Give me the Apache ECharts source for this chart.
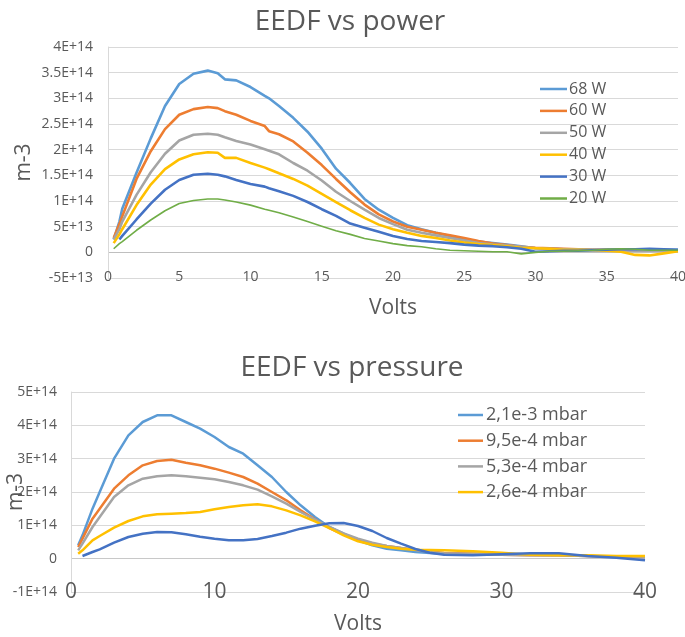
<!DOCTYPE html>
<html>
<head>
<meta charset="utf-8">
<script src="https://cdn.jsdelivr.net/npm/echarts@6/dist/echarts.min.js"></script>
<style>html,body{margin:0;padding:0;background:#fff}#c{width:685px;height:637px}</style>
</head>
<body>
<div id="c"></div>
<script>
// ---------- Top chart: EEDF vs power ----------
const topTitle = 'EEDF vs power';
const topNames = ['68 W', '60 W', '50 W', '40 W', '30 W', '20 W'];
const topVolts = [0.4, 0.8, 1, 2, 3, 4, 5, 6, 7, 7.7, 8.2, 9, 10, 11, 11.3, 12,
  13, 14, 15, 16, 17, 18, 19, 20, 21, 22, 23, 24, 25, 26, 27, 28, 29, 30, 31, 32, 33, 34, 35, 36, 37, 38, 39, 40];
const w68 = [2.5e13, 6e13, 8.5e13, 15.5e13, 22.2e13, 28.5e13, 32.8e13, 34.8e13, 35.4e13, 34.9e13, 33.7e13, 33.5e13, 32.2e13, 30.5e13, 30e13, 28.5e13,
  26.2e13, 23.5e13, 20.2e13, 16.3e13, 13.5e13, 10.4e13, 8.3e13, 6.7e13, 5.3e13, 4.5e13, 3.8e13, 3.2e13, 2.6e13, 2.1e13, 1.8e13, 1.5e13, 1.2e13, 0.8e13, 0.7e13, 0.6e13, 0.5e13, 0.5e13, 0.5e13, 0.5e13, 0.4e13, 0.4e13, 0.5e13, 0.5e13];
const w60 = [2.8e13, 5.5e13, 7e13, 14.3e13, 19.7e13, 24e13, 26.8e13, 27.9e13, 28.3e13, 28.1e13, 27.5e13, 26.8e13, 25.6e13, 24.6e13, 23.6e13, 23e13,
  21.6e13, 19.4e13, 17e13, 14.3e13, 11.7e13, 9.3e13, 7.4e13, 6.0e13, 5.0e13, 4.4e13, 3.8e13, 3.3e13, 2.8e13, 2.2e13, 1.7e13, 1.4e13, 1.1e13, 0.9e13, 0.8e13, 0.7e13, 0.6e13, 0.5e13, 0.5e13, 0.4e13, 0.4e13, 0.3e13, 0.3e13, 0.3e13];
const w50 = [2.5e13, 4.5e13, 6e13, 11.2e13, 15.6e13, 19.2e13, 21.8e13, 22.9e13, 23.1e13, 22.9e13, 22.4e13, 21.7e13, 21e13, 20.1e13, 19.8e13, 19.1e13,
  17.4e13, 15.9e13, 14.0e13, 11.8e13, 10.0e13, 8.3e13, 6.7e13, 5.5e13, 4.4e13, 3.8e13, 3.3e13, 2.8e13, 2.3e13, 1.8e13, 1.5e13, 1.3e13, 1.1e13, 0.8e13, 0.7e13, 0.6e13, 0.6e13, 0.5e13, 0.4e13, 0.4e13, 0.3e13, 0.3e13, 0.3e13, 0.3e13];
const w40 = [1.8e13, 3.5e13, 4.5e13, 9.2e13, 13.2e13, 16.2e13, 18.1e13, 19.1e13, 19.5e13, 19.4e13, 18.4e13, 18.4e13, 17.4e13, 16.5e13, 16.2e13, 15.4e13,
  14.3e13, 13.0e13, 11.4e13, 9.8e13, 8.2e13, 6.7e13, 5.4e13, 4.5e13, 3.8e13, 3.2e13, 2.8e13, 2.3e13, 1.9e13, 1.6e13, 1.4e13, 1.2e13, 0.9e13, 0.8e13, 0.7e13, 0.5e13, 0.5e13, 0.4e13, 0.3e13, 0.1e13, -0.5e13, -0.6e13, -0.2e13, 0.2e13];
const w30 = [null, 2.5e13, 3.2e13, 6.4e13, 9.5e13, 12.2e13, 14.1e13, 15.1e13, 15.3e13, 15.1e13, 14.8e13, 14.1e13, 13.3e13, 12.8e13, 12.5e13, 11.9e13,
  11.0e13, 9.8e13, 8.4e13, 7.1e13, 5.6e13, 4.8e13, 4.0e13, 3.2e13, 2.6e13, 2.2e13, 2.0e13, 1.8e13, 1.5e13, 1.3e13, 1.2e13, 1.0e13, 0.7e13, 0.1e13, 0.2e13, 0.3e13, 0.3e13, 0.4e13, 0.5e13, 0.6e13, 0.6e13, 0.7e13, 0.6e13, 0.5e13];
const w20 = [0.7e13, 1.7e13, 2.1e13, 4.3e13, 6.3e13, 8.1e13, 9.5e13, 10.1e13, 10.4e13, 10.4e13, 10.2e13, 9.8e13, 9.2e13, 8.4e13, 8.2e13, 7.7e13,
  6.9e13, 6.0e13, 5.1e13, 4.2e13, 3.5e13, 2.7e13, 2.2e13, 1.7e13, 1.3e13, 1.1e13, 0.7e13, 0.4e13, 0.3e13, 0.2e13, 0.1e13, 0.1e13, -0.3e13, 0, 0.2e13, 0.2e13, 0.3e13, 0.4e13, 0.6e13, 0.7e13, 0.6e13, 0.4e13, 0.4e13, 0.4e13];
const topSeriesValues = [w68, w60, w50, w40, w30, w20];
const topColors = ['#5B9BD5', '#ED7D31', '#A5A5A5', '#FFC000', '#4472C4', '#70AD47'];
const topWidths = [2.6, 2.6, 2.6, 2.6, 2.6, 1.6];

// ---------- Bottom chart: EEDF vs pressure ----------
const botTitle = 'EEDF vs pressure';
const botNames = ['2,1e-3 mbar', '9,5e-4 mbar', '5,3e-4 mbar', '2,6e-4 mbar', 'Série 5'];
const botLegendNames = ['2,1e-3 mbar', '9,5e-4 mbar', '5,3e-4 mbar', '2,6e-4 mbar'];
const botVolts = [0.5, 0.8, 1.5, 2, 3, 4, 5, 6, 7, 8, 9, 10, 11, 12, 13, 14, 15, 16, 17, 18, 19, 20, 21, 22, 23, 24, 25, 26, 28, 30, 32, 34, 36, 38, 40];
const p21e3 = [0.4e14, 0.7e14, 1.5e14, 2.0e14, 3.0e14, 3.7e14, 4.1e14, 4.3e14, 4.3e14, 4.1e14, 3.9e14, 3.65e14, 3.35e14, 3.15e14, 2.8e14, 2.45e14, 2.0e14, 1.6e14, 1.25e14, 0.95e14, 0.75e14, 0.55e14, 0.4e14, 0.3e14, 0.25e14, 0.2e14, 0.17e14, 0.15e14, 0.15e14, 0.15e14, 0.12e14, 0.1e14, 0.08e14, 0.05e14, 0.05e14];
const p95e4 = [0.35e14, 0.6e14, 1.2e14, 1.5e14, 2.1e14, 2.5e14, 2.8e14, 2.93e14, 2.97e14, 2.88e14, 2.8e14, 2.7e14, 2.58e14, 2.45e14, 2.25e14, 2.0e14, 1.75e14, 1.45e14, 1.18e14, 0.92e14, 0.72e14, 0.55e14, 0.45e14, 0.38e14, 0.32e14, 0.27e14, 0.22e14, 0.17e14, 0.15e14, 0.12e14, 0.1e14, 0.1e14, 0.08e14, 0.06e14, 0.05e14];
const p53e4 = [0.25e14, 0.45e14, 0.95e14, 1.25e14, 1.85e14, 2.2e14, 2.4e14, 2.47e14, 2.5e14, 2.47e14, 2.43e14, 2.38e14, 2.3e14, 2.2e14, 2.07e14, 1.87e14, 1.65e14, 1.4e14, 1.17e14, 0.95e14, 0.76e14, 0.6e14, 0.48e14, 0.38e14, 0.32e14, 0.26e14, 0.2e14, 0.16e14, 0.14e14, 0.12e14, 0.1e14, 0.1e14, 0.08e14, 0.07e14, 0.06e14];
const p26e4 = [0.15e14, 0.25e14, 0.55e14, 0.68e14, 0.93e14, 1.13e14, 1.27e14, 1.33e14, 1.35e14, 1.37e14, 1.4e14, 1.48e14, 1.55e14, 1.6e14, 1.63e14, 1.57e14, 1.45e14, 1.3e14, 1.12e14, 0.92e14, 0.7e14, 0.52e14, 0.42e14, 0.35e14, 0.3e14, 0.27e14, 0.26e14, 0.25e14, 0.22e14, 0.18e14, 0.12e14, 0.1e14, 0.1e14, 0.08e14, 0.08e14];
const p5 = [null, 0.08e14, 0.2e14, 0.28e14, 0.48e14, 0.65e14, 0.75e14, 0.8e14, 0.79e14, 0.73e14, 0.66e14, 0.6e14, 0.55e14, 0.55e14, 0.59e14, 0.68e14, 0.78e14, 0.9e14, 0.99e14, 1.06e14, 1.07e14, 0.98e14, 0.83e14, 0.62e14, 0.45e14, 0.29e14, 0.18e14, 0.12e14, 0.1e14, 0.13e14, 0.16e14, 0.16e14, 0.08e14, 0.03e14, -0.05e14];
const botSeriesValues = [p21e3, p95e4, p53e4, p26e4, p5];
const botColors = ['#5B9BD5', '#ED7D31', '#A5A5A5', '#FFC000', '#4472C4'];

const FONT = 'Open Sans';
const TXT = '#595959';

function sci(v) {
  if (Math.abs(v) < 1) return '0';
  return Number(v.toPrecision(6)).toExponential().replace('e', 'E');
}
function pairs(xs, ys) { return xs.map((x, i) => [x, ys[i]]); }

const chart = echarts.init(document.getElementById('c'), null, { renderer: 'canvas' });

const series = [];
topNames.forEach((n, i) => series.push({
  name: n, type: 'line', xAxisIndex: 0, yAxisIndex: 0, symbol: 'none', showSymbol: false,
  data: pairs(topVolts, topSeriesValues[i]), color: topColors[i],
  lineStyle: { width: topWidths[i], color: topColors[i] }, animation: false
}));
botNames.forEach((n, i) => series.push({
  name: n, type: 'line', xAxisIndex: 1, yAxisIndex: 1, symbol: 'none', showSymbol: false,
  data: pairs(botVolts, botSeriesValues[i]), color: botColors[i],
  lineStyle: { width: 2.5, color: botColors[i] }, animation: false
}));

const topSplit = ['#d9d9d9', '#bfbfbf', '#d9d9d9', '#d9d9d9', '#d9d9d9', '#d9d9d9', '#d9d9d9', '#d9d9d9', '#d9d9d9', '#d9d9d9'];
const botSplit = ['#d9d9d9', '#c8c8c8', '#d9d9d9', '#d9d9d9', '#d9d9d9', '#d9d9d9', '#d9d9d9'];

chart.setOption({
  animation: false,
  textStyle: { fontFamily: FONT },
  title: [
    { text: topTitle, left: 345, textAlign: 'center', top: 3, textStyle: { fontFamily: FONT, fontSize: 28, fontWeight: 'normal', color: TXT } },
    { text: botTitle, left: 347, textAlign: 'center', top: 349, textStyle: { fontFamily: FONT, fontSize: 28, fontWeight: 'normal', color: TXT } }
  ],
  legend: [
    { data: topNames, orient: 'vertical', left: 535, top: 76, icon: 'rect', itemWidth: 27, itemHeight: 2.5, itemGap: 5.9,
      textStyle: { fontFamily: FONT, fontSize: 16, color: TXT, padding: [0, 0, 0, -3] } },
    { data: botLegendNames, orient: 'vertical', left: 453, top: 401, icon: 'rect', itemWidth: 25, itemHeight: 2.5, itemGap: 7.7,
      textStyle: { fontFamily: FONT, fontSize: 18, color: TXT, padding: [0, 0, 0, -2] } }
  ],
  grid: [
    { left: 108, top: 47, width: 570, height: 231, outerBoundsMode: 'none', containLabel: false },
    { left: 71, top: 392, width: 574, height: 200, outerBoundsMode: 'none', containLabel: false }
  ],
  xAxis: [
    { type: 'value', gridIndex: 0, min: 0, max: 40, interval: 5, name: 'Volts', nameLocation: 'middle', nameGap: 20, nameMoveOverlap: false,
      nameTextStyle: { fontFamily: FONT, fontSize: 21, color: TXT },
      axisLine: { show: false }, axisTick: { show: false }, splitLine: { show: false },
      axisLabel: { margin: -8, fontSize: 14, color: TXT, fontFamily: FONT } },
    { type: 'value', gridIndex: 1, min: 0, max: 40, interval: 10, name: 'Volts', nameLocation: 'middle', nameGap: 22, nameMoveOverlap: false,
      nameTextStyle: { fontFamily: FONT, fontSize: 21, color: TXT },
      axisLine: { show: false }, axisTick: { show: false }, splitLine: { show: false },
      axisLabel: { margin: -10, fontSize: 21, color: TXT, fontFamily: FONT } }
  ],
  yAxis: [
    { type: 'value', gridIndex: 0, min: -5e13, max: 4e14, interval: 5e13, name: 'm-3', nameLocation: 'middle', nameGap: 73, nameMoveOverlap: false,
      nameTextStyle: { fontFamily: FONT, fontSize: 21, color: TXT },
      axisLine: { show: true, lineStyle: { color: '#d9d9d9', width: 1 } }, axisTick: { show: false },
      splitLine: { show: true, lineStyle: { color: topSplit, width: 1 } },
      axisLabel: { margin: 15, fontSize: 14, color: TXT, fontFamily: FONT, formatter: sci } },
    { type: 'value', gridIndex: 1, min: -1e14, max: 5e14, interval: 1e14, name: 'm-3', nameLocation: 'middle', nameGap: 44, nameMoveOverlap: false,
      nameTextStyle: { fontFamily: FONT, fontSize: 21, color: TXT },
      axisLine: { show: true, lineStyle: { color: '#d9d9d9', width: 1 } }, axisTick: { show: false },
      splitLine: { show: true, lineStyle: { color: botSplit, width: 1 } },
      axisLabel: { margin: 14, fontSize: 14, color: TXT, fontFamily: FONT, formatter: sci } }
  ],
  series: series
});
</script>
</body>
</html>
